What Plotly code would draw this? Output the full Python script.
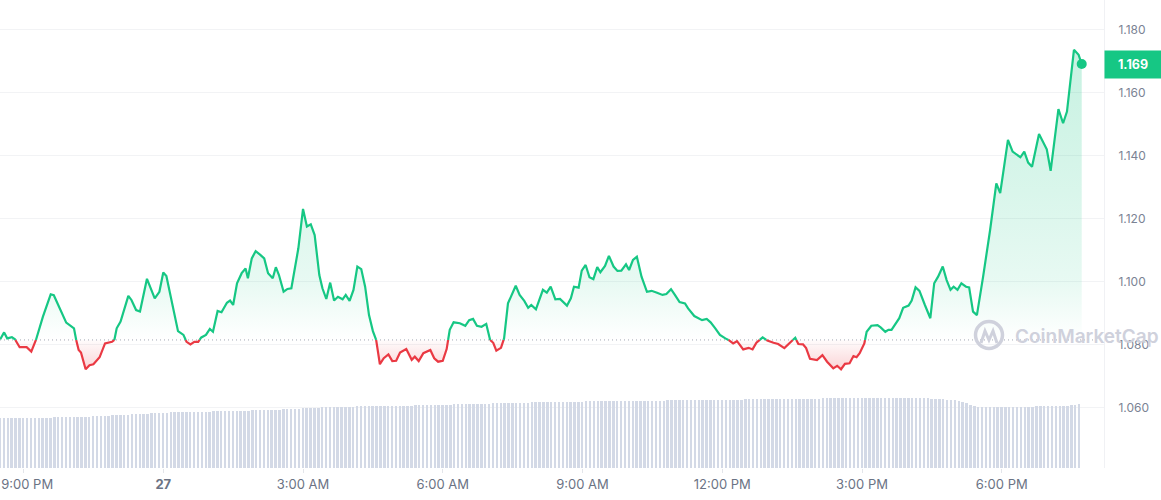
import numpy as np
import pandas as pd
import plotly.graph_objects as go

# ---------------- data ----------------
DAY0 = pd.Timestamp("2024-03-27 00:00")
BASE_PRICE = 1.0816          # price 24h ago (reference line)
LAST_PRICE_LABEL = "1.169"

# minutes relative to midnight of the 27th
price_minutes = [
    -210, -205, -201, -195, -191, -185, -176, -170, -164, -155, -145, -141, -125, -118, -115, -112,
    -109, -106, -100, -95, -90, -82, -75, -66, -63, -60, -55, -45, -41, -35, -30, -21, -11, -5, 0, 4,
    19, 26, 30, 35, 40, 45, 49, 55, 60, 64, 70, 75, 82, 86, 90, 95, 101, 106, 109, 114, 119, 125, 130,
    135, 141, 145, 149, 155, 160, 165, 174, 180, 185, 190, 195, 201, 205, 210, 215, 220, 225, 231, 235,
    240, 245, 250, 255, 260, 265, 270, 274, 279, 284, 290, 295, 300, 305, 313, 320, 324, 329, 335, 344,
    349, 354, 360, 365, 369, 374, 382, 389, 394, 399, 404, 410, 416, 421, 425, 429, 435, 439, 444, 454,
    459, 465, 470, 474, 480, 489, 494, 499, 505, 511, 520, 525, 529, 535, 539, 544, 549, 554, 559, 563,
    569, 574, 580, 585, 590, 596, 600, 605, 610, 616, 623, 629, 636, 643, 648, 654, 659, 665, 672, 676,
    684, 689, 694, 700, 705, 711, 717, 724, 728, 734, 739, 747, 754, 759, 764, 772, 778, 786, 792, 800,
    806, 814, 818, 824, 828, 833, 842, 849, 855, 863, 868, 873, 878, 884, 889, 893, 897, 903, 906, 912,
    920, 924, 930, 934, 938, 948, 953, 960, 964, 969, 974, 981, 988, 993, 998, 1004, 1009, 1014, 1018,
    1023, 1028, 1034, 1038, 1043, 1048, 1056, 1065, 1073, 1078, 1083, 1088, 1094, 1104, 1109, 1114,
    1119, 1128, 1138, 1143, 1153, 1159, 1164, 1173, 1179, 1183,
]
price_values = [
    1.0818, 1.0840, 1.0821, 1.0825, 1.0818, 1.0793, 1.0793, 1.0779, 1.0816, 1.0890, 1.0961, 1.0958,
    1.0871, 1.0860, 1.0853, 1.0814, 1.0784, 1.0776, 1.0723, 1.0736, 1.0739, 1.0761, 1.0805, 1.0810,
    1.0816, 1.0853, 1.0874, 1.0956, 1.0943, 1.0911, 1.0906, 1.1010, 1.0948, 1.0969, 1.1030, 1.1019,
    1.0844, 1.0832, 1.0810, 1.0802, 1.0810, 1.0810, 1.0824, 1.0832, 1.0851, 1.0842, 1.0908, 1.0904,
    1.0934, 1.0941, 1.0927, 1.0996, 1.1028, 1.1043, 1.1012, 1.1075, 1.1098, 1.1086, 1.1075, 1.1028,
    1.1012, 1.1047, 1.1022, 1.0969, 1.0978, 1.0980, 1.1107, 1.1232, 1.1176, 1.1183, 1.1149, 1.1022,
    1.0980, 1.0946, 1.0998, 1.0941, 1.0953, 1.0945, 1.0959, 1.0940, 1.0975, 1.1049, 1.1041, 1.0985,
    1.0895, 1.0844, 1.0819, 1.0739, 1.0758, 1.0770, 1.0749, 1.0750, 1.0776, 1.0787, 1.0753, 1.0763,
    1.0749, 1.0774, 1.0784, 1.0758, 1.0747, 1.0750, 1.0787, 1.0848, 1.0872, 1.0869, 1.0861, 1.0879,
    1.0883, 1.0861, 1.0858, 1.0867, 1.0816, 1.0807, 1.0782, 1.0791, 1.0821, 1.0932, 1.0988, 1.0959,
    1.0940, 1.0918, 1.0927, 1.0913, 1.0975, 1.0966, 1.0985, 1.0945, 1.0946, 1.0925, 1.0948, 1.0985,
    1.0982, 1.1036, 1.1054, 1.1015, 1.1009, 1.1047, 1.1031, 1.1051, 1.1083, 1.1049, 1.1035, 1.1036,
    1.1056, 1.1038, 1.1070, 1.1080, 1.1017, 1.0969, 1.0972, 1.0966, 1.0959, 1.0962, 1.0977, 1.0959,
    1.0936, 1.0932, 1.0916, 1.0892, 1.0885, 1.0879, 1.0883, 1.0872, 1.0853, 1.0832, 1.0821, 1.0816,
    1.0805, 1.0812, 1.0786, 1.0791, 1.0786, 1.0807, 1.0824, 1.0814, 1.0807, 1.0803, 1.0790, 1.0805,
    1.0823, 1.0803, 1.0802, 1.0790, 1.0756, 1.0752, 1.0768, 1.0747, 1.0726, 1.0734, 1.0723, 1.0740,
    1.0742, 1.0765, 1.0761, 1.0774, 1.0805, 1.0842, 1.0861, 1.0863, 1.0856, 1.0842, 1.0848, 1.0848,
    1.0885, 1.0918, 1.0925, 1.0941, 1.0983, 1.0972, 1.0927, 1.0885, 1.0996, 1.1017, 1.1049, 1.1006,
    1.0975, 1.0985, 1.0975, 1.0996, 1.0985, 1.0983, 1.0906, 1.0895, 1.1017, 1.1165, 1.1313, 1.1282,
    1.1366, 1.1451, 1.1414, 1.1396, 1.1414, 1.1379, 1.1366, 1.1470, 1.1421, 1.1353, 1.1549, 1.1504,
    1.1541, 1.1737, 1.1721, 1.1692,
]

# 24h volume (millions), one bar every 5 minutes starting at minute -210
VOLUME_START_MINUTE = -210
volume_values = [
    497, 497, 498, 498, 499, 499, 500, 500, 501, 501, 502, 503,
    504, 505, 506, 507, 508, 509, 510, 511, 512, 513, 514, 515,
    517, 519, 521, 523, 525, 527, 529, 531, 533, 535, 537, 539,
    541, 543, 545, 547, 549, 551, 553, 555, 556, 557, 557, 558,
    559, 560, 561, 562, 563, 564, 565, 566, 567, 568, 569, 570,
    571, 572, 573, 574, 575, 576, 577, 578, 579, 580, 581, 582,
    584, 586, 588, 590, 592, 594, 596, 598, 600, 602, 604, 606,
    608, 609, 610, 611, 612, 613, 614, 615, 616, 617, 618, 619,
    620, 620, 621, 621, 622, 622, 623, 623, 624, 624, 625, 626,
    627, 628, 629, 630, 631, 632, 633, 634, 635, 636, 637, 638,
    639, 640, 641, 642, 643, 644, 645, 646, 647, 648, 649, 650,
    651, 652, 653, 654, 655, 656, 657, 658, 659, 660, 661, 662,
    663, 663, 664, 664, 665, 665, 665, 666, 666, 666, 667, 667,
    668, 668, 669, 669, 670, 670, 671, 671, 672, 672, 673, 673,
    674, 674, 675, 675, 676, 676, 677, 677, 678, 678, 679, 679,
    680, 680, 681, 681, 682, 682, 683, 683, 684, 684, 685, 685,
    686, 686, 687, 687, 688, 688, 689, 689, 690, 690, 691, 691,
    692, 692, 693, 693, 694, 694, 695, 695, 696, 696, 697, 697,
    698, 698, 699, 699, 700, 700, 701, 701, 702, 702, 703, 703,
    703, 703, 702, 702, 701, 701, 700, 700, 699, 698, 697, 696,
    694, 692, 690, 688, 685, 682, 678, 670, 660, 648, 635, 622,
    615, 613, 612, 612, 611, 611, 611, 612, 612, 613, 613, 614,
    614, 615, 615, 616, 616, 617, 617, 618, 619, 620, 621, 622,
    628, 634, 640,
]

y_tick_values = [1.06, 1.08, 1.10, 1.12, 1.14, 1.16, 1.18]
x_tick_minutes = [-180, 0, 180, 360, 540, 720, 900, 1080]
x_tick_labels = ["\u00a0\u00a09:00 PM", "<b>27</b>", "3:00 AM", "6:00 AM", "9:00 AM",
                 "12:00 PM", "3:00 PM", "6:00 PM"]

X_RANGE_MINUTES = [-210.3, 1211.7]
Y_RANGE = [1.04095, 1.18952]
VOL_RANGE = [0, 4680]

GREEN = "#16c784"
RED = "#ea3943"

assert len(price_minutes) == len(price_values), (len(price_minutes), len(price_values))

# ---------------- processing ----------------
t = np.array(price_minutes, dtype=float)
v = np.array(price_values, dtype=float)
ts, vs = [t[0]], [v[0]]
for i in range(1, len(t)):
    a, b = v[i - 1] - BASE_PRICE, v[i] - BASE_PRICE
    if a * b < 0:
        f = a / (a - b)
        ts.append(t[i - 1] + f * (t[i] - t[i - 1]))
        vs.append(BASE_PRICE)
    ts.append(t[i])
    vs.append(v[i])
ts = np.array(ts)
vs = np.array(vs)
times = DAY0 + pd.to_timedelta(ts, unit="m")

eps = 1e-9
green_line = np.where(vs >= BASE_PRICE - eps, vs, np.nan)
red_line = np.where(vs <= BASE_PRICE + eps, vs, np.nan)
green_fill = np.maximum(vs, BASE_PRICE)
red_fill = np.minimum(vs, BASE_PRICE)
base_arr = np.full(len(vs), BASE_PRICE)

bar_times = DAY0 + pd.to_timedelta(
    VOLUME_START_MINUTE + 5 * np.arange(len(volume_values)), unit="m")

def tmin(m):
    return DAY0 + pd.Timedelta(minutes=m)

# ---------------- figure ----------------
fig = go.Figure()

fig.add_trace(go.Bar(x=bar_times, y=volume_values, yaxis="y2",
                     marker=dict(color="#d3d9e6", line=dict(width=0)),
                     width=150000, hoverinfo="skip"))

fig.add_trace(go.Scatter(x=times, y=base_arr, mode="lines",
                         line=dict(width=0), hoverinfo="skip"))
fig.add_trace(go.Scatter(
    x=times, y=green_fill, mode="lines", line=dict(width=0), fill="tonexty",
    fillgradient=dict(type="vertical", start=BASE_PRICE, stop=max(price_values),
                      colorscale=[[0, "rgba(22,199,132,0.0)"],
                                  [0.2, "rgba(22,199,132,0.10)"],
                                  [0.5, "rgba(22,199,132,0.16)"],
                                  [1, "rgba(22,199,132,0.24)"]]),
    hoverinfo="skip"))
fig.add_trace(go.Scatter(x=times, y=base_arr, mode="lines",
                         line=dict(width=0), hoverinfo="skip"))
fig.add_trace(go.Scatter(
    x=times, y=red_fill, mode="lines", line=dict(width=0), fill="tonexty",
    fillgradient=dict(type="vertical", start=min(price_values), stop=BASE_PRICE,
                      colorscale=[[0, "rgba(234,57,67,0.22)"],
                                  [1, "rgba(234,57,67,0.02)"]]),
    hoverinfo="skip"))

fig.add_trace(go.Scatter(x=times, y=red_line, mode="lines",
                         line=dict(color=RED, width=2.2), connectgaps=False))
fig.add_trace(go.Scatter(x=times, y=green_line, mode="lines",
                         line=dict(color=GREEN, width=2.2), connectgaps=False))
fig.add_trace(go.Scatter(x=[times[-1]], y=[vs[-1]], mode="markers",
                         marker=dict(color=GREEN, size=10)))

# baseline dotted line
fig.add_shape(type="line", xref="paper", x0=0, x1=1, yref="y",
              y0=BASE_PRICE, y1=BASE_PRICE, layer="below",
              line=dict(color="#a3a8b3", width=1, dash="1px,3px"))

# watermark (pixel -> paper helpers for decorative elements)
PLOT_W, PLOT_H = 1104.0, 468.0
def px(x):
    return x / PLOT_W
def py(y):
    return (PLOT_H - y) / PLOT_H

wm_color = "#cfd1dc"
fig.add_shape(type="circle", xref="paper", yref="paper",
              x0=px(975.5), x1=px(1002.5), y0=py(348.5), y1=py(321.5),
              line=dict(color=wm_color, width=3.5), layer="above")
m_pts = [(981, 343), (985, 331), (989, 340), (993, 331), (997, 343)]
path = "M " + " L ".join(f"{px(a):.5f},{py(b):.5f}" for a, b in m_pts)
fig.add_shape(type="path", xref="paper", yref="paper", path=path,
              line=dict(color=wm_color, width=3), layer="above")
fig.add_annotation(x=px(1013), y=py(336.5), xref="paper", yref="paper",
                   text="CoinMarketCap", showarrow=False, xanchor="left",
                   yanchor="middle",
                   font=dict(family="Inter", size=19, color=wm_color, weight=600))

# last price label
fig.add_annotation(x=1, y=vs[-1], xref="paper", yref="y", text=f"<b>{LAST_PRICE_LABEL}</b>",
                   showarrow=False, xanchor="left", yanchor="middle",
                   width=54, height=25, bgcolor=GREEN, align="center",
                   font=dict(family="Inter", size=12.5, color="white"))

fig.update_layout(
    width=1161, height=500,
    margin=dict(l=0, r=57, t=0, b=32),
    paper_bgcolor="white", plot_bgcolor="white",
    showlegend=False, bargap=0,
    font=dict(family="Inter, Roboto, sans-serif"),
    xaxis=dict(type="date", range=[tmin(X_RANGE_MINUTES[0]), tmin(X_RANGE_MINUTES[1])],
               tickvals=[tmin(m) for m in x_tick_minutes], ticktext=x_tick_labels,
               showgrid=False, zeroline=False, showline=False,
               ticks="outside", ticklen=4, tickcolor="#e3e5ea",
               ticklabeloverflow="allow",
               tickfont=dict(size=13, color="#6b7384"), automargin=False),
    yaxis=dict(side="right", range=Y_RANGE, tickvals=y_tick_values, tickformat=".3f",
               showgrid=True, gridcolor="#f2f3f5", gridwidth=1, zeroline=False,
               showline=True, linecolor="#f0f1f4", ticks="", ticklabelstandoff=11,
               ticklabeloverflow="allow",
               tickfont=dict(size=12, color="#7b8394"), automargin=False),
    yaxis2=dict(overlaying="y", range=VOL_RANGE, visible=False),
)

fig.write_html("out.html", config={"displayModeBar": False},
               post_script="document.body.style.margin='0';")
